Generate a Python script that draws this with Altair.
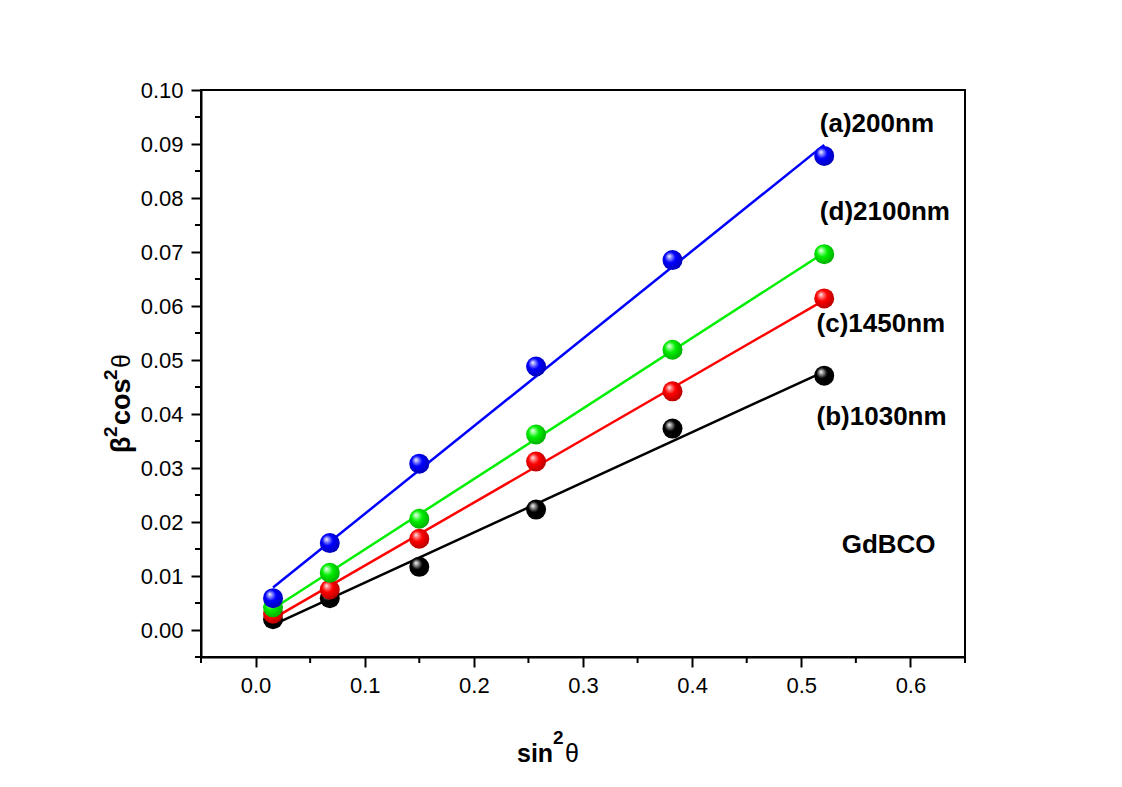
import altair as alt
import pandas as pd

# data
x_vals = [0.016, 0.068, 0.150, 0.257, 0.382, 0.521]
y_200 = [0.0059, 0.0161, 0.0308, 0.0488, 0.0685, 0.0878]
y_2100 = [0.0042, 0.0106, 0.0206, 0.0362, 0.0519, 0.0696]
y_1450 = [0.0030, 0.0075, 0.0169, 0.0312, 0.0442, 0.0614]
y_1030 = [0.0020, 0.0059, 0.0117, 0.0223, 0.0373, 0.0471]

series_names = ["(b)1030nm", "(c)1450nm", "(d)2100nm", "(a)200nm"]
series_vals = [y_1030, y_1450, y_2100, y_200]
series_colors = ["#000000", "#ff0000", "#00ee00", "#0000ff"]
series_dark = ["#000000", "#b00000", "#00a800", "#0000b0"]
series_light = ["#aaaaaa", "#ff9090", "#a0ffa0", "#a0a0ff"]

label_text = ["(a)200nm", "(d)2100nm", "(c)1450nm", "(b)1030nm", "GdBCO"]
label_x = [0.517, 0.517, 0.514, 0.514, 0.537]
label_y = [0.0937, 0.0774, 0.0566, 0.0395, 0.0158]

x_major = [0.0, 0.1, 0.2, 0.3, 0.4, 0.5, 0.6]
x_minor = [-0.05, 0.05, 0.15, 0.25, 0.35, 0.45, 0.55, 0.65]
y_major = [0.00, 0.01, 0.02, 0.03, 0.04, 0.05, 0.06, 0.07, 0.08, 0.09, 0.10]
y_minor = [-0.005, 0.005, 0.015, 0.025, 0.035, 0.045, 0.055, 0.065, 0.075, 0.085, 0.095]

W, H = 764, 567

rows = []
for name, ys in zip(series_names, series_vals):
    for xv, yv in zip(x_vals, ys):
        rows.append({"series": name, "x": xv, "y": yv})
df = pd.DataFrame(rows)
labels = pd.DataFrame({"text": label_text, "x": label_x, "y": label_y})

x_scale = alt.Scale(domain=[-0.05, 0.65], nice=False, zero=False)
y_scale = alt.Scale(domain=[-0.005, 0.10], nice=False, zero=False)

common_axis = dict(
    grid=False, title=None, tickSize=10, labelOverlap=False,
    labelFont="Liberation Sans", labelFontSize=22, labelColor="black",
    labelPadding=8, domainColor="black", domainWidth=2,
    tickColor="black", tickWidth=2,
)
x_axis = alt.Axis(values=x_major, format=".1f", **common_axis)
y_axis = alt.Axis(values=y_major, format=".2f", **common_axis)


def X(field):
    return alt.X(field, scale=x_scale, axis=x_axis)


def Y(field):
    return alt.Y(field, scale=y_scale, axis=y_axis)


layers = []
# fit lines (linear regression of each series)
for name, col in zip(series_names, series_colors):
    line = alt.Chart(df).transform_filter(
        alt.datum.series == name
    ).transform_regression("x", "y", method="linear").mark_line(
        color=col, strokeWidth=2.5
    ).encode(x=X("x:Q"), y=Y("y:Q"))
    layers.append(line)

# sphere-like points
for name, col, dark, light in zip(series_names, series_colors, series_dark, series_light):
    grad = alt.RadialGradient(
        gradient="radial",
        stops=[
            alt.GradientStop(offset=0, color="#ffffff"),
            alt.GradientStop(offset=0.15, color=light),
            alt.GradientStop(offset=0.45, color=col),
            alt.GradientStop(offset=1, color=dark),
        ],
        x1=0.33, y1=0.3, r1=0.0,
        x2=0.45, y2=0.45, r2=0.6,
    )
    pts = alt.Chart(df).transform_filter(
        alt.datum.series == name
    ).mark_circle(size=400, opacity=1, fill=grad).encode(
        x=X("x:Q"), y=Y("y:Q"),
    )
    layers.append(pts)

# minor ticks
xminor_df = pd.DataFrame({"x": x_minor})
yminor_df = pd.DataFrame({"y": y_minor})
layers.append(
    alt.Chart(xminor_df).mark_rule(color="black", strokeWidth=2).encode(
        x=X("x:Q"), y=alt.value(H), y2=alt.value(H + 6)
    )
)
layers.append(
    alt.Chart(yminor_df).mark_rule(color="black", strokeWidth=2).encode(
        y=Y("y:Q"), x=alt.value(0), x2=alt.value(-6)
    )
)

# series labels
layers.append(
    alt.Chart(labels).mark_text(
        align="left", baseline="middle", font="Liberation Sans",
        fontSize=26, fontWeight="bold", color="black"
    ).encode(x=X("x:Q"), y=Y("y:Q"), text="text:N")
)


# axis titles built from pieces (superscripts)
def piece(txt, px, py, size, weight="bold", angle=0):
    kw = dict(align="left", baseline="alphabetic", font="Liberation Sans",
              fontSize=size, fontWeight=weight, color="black")
    if angle:
        kw["angle"] = angle
    return alt.Chart(pd.DataFrame({"t": [txt]})).mark_text(**kw).encode(
        x=alt.value(px), y=alt.value(py), text="t:N"
    )


layers += [
    piece("sin", 316, 672, 25),
    piece("2", 352, 654, 19),
    piece("θ", 364, 672, 25, weight="normal"),
    piece("β", -71, 363, 27, angle=270),
    piece("2", -84, 347, 19, angle=270),
    piece("cos", -71, 335, 27, angle=270),
    piece("2", -84, 290, 19, angle=270),
    piece("θ", -71, 278, 25, weight="normal", angle=270),
]

chart = alt.layer(*layers).properties(
    width=W, height=H,
    autosize=alt.AutoSizeParams(type="none"),
    padding={"left": 193, "top": 82, "right": 140, "bottom": 110},
    background="white",
).configure_view(stroke="black", strokeWidth=2)

chart.save("out.html", embed_options={"renderer": "svg", "actions": False})
